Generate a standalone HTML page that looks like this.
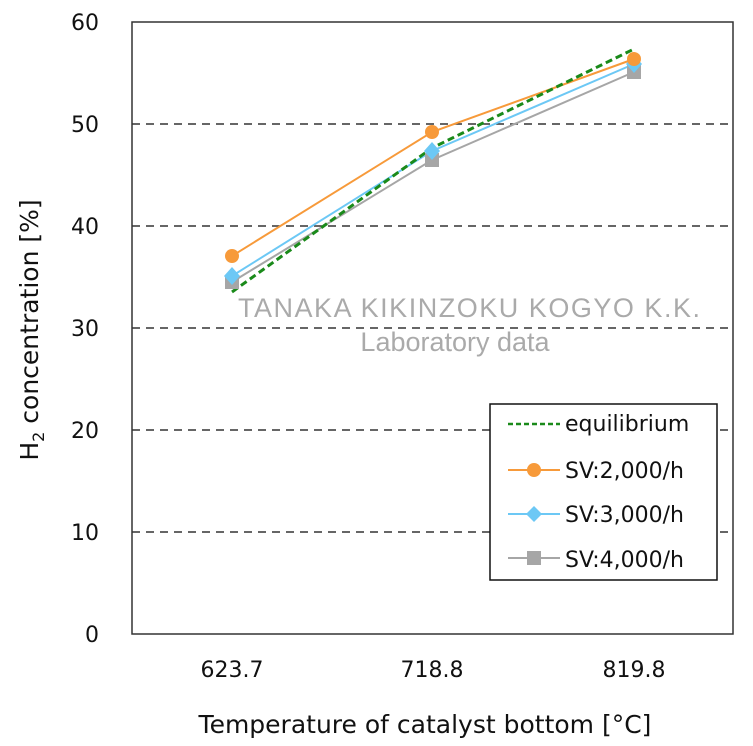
<!DOCTYPE html><html><head><style>body{margin:0;background:#fff}svg{display:block}text{font-family:"DejaVu Sans","Liberation Sans",sans-serif}</style></head><body>
<svg width="753" height="746" xmlns="http://www.w3.org/2000/svg">
<rect x="0" y="0" width="753" height="746" fill="#fff"/>
<rect x="132" y="22" width="601" height="612" fill="none" stroke="#333" stroke-width="1.5"/>
<g stroke="#333" stroke-width="1.5" stroke-dasharray="8,6">
<line x1="132" y1="124" x2="733" y2="124"/><line x1="132" y1="226" x2="733" y2="226"/><line x1="132" y1="328" x2="733" y2="328"/><line x1="132" y1="430" x2="733" y2="430"/><line x1="132" y1="532" x2="733" y2="532"/></g>
<g font-size="22" fill="#111" text-anchor="end">
<text x="99" y="30">60</text><text x="99" y="132">50</text><text x="99" y="234">40</text><text x="99" y="336">30</text><text x="99" y="438">20</text><text x="99" y="540">10</text><text x="99" y="642">0</text></g>
<g font-size="22" fill="#111" text-anchor="middle">
<text x="232" y="677">623.7</text><text x="432" y="677">718.8</text><text x="634" y="677">819.8</text>
<text x="425" y="733" font-size="25">Temperature of catalyst bottom [°C]</text></g>
<text transform="translate(38,330) rotate(-90)" font-size="25" text-anchor="middle" fill="#111">H<tspan font-size="16" dy="6">2</tspan><tspan dy="-6"> concentration [%]</tspan></text>
<g fill="#aaa" font-size="27" text-anchor="middle"><text x="469" y="317" textLength="462" style="font-family:'Liberation Sans',sans-serif">TANAKA KIKINZOKU KOGYO K.K.</text><text x="455" y="351" style="font-family:'Liberation Sans',sans-serif">Laboratory data</text></g>
<polyline points="232,282 432,160 634,72" fill="none" stroke="#a6a6a6" stroke-width="2"/>
<polyline points="232,276 432,151 634,64" fill="none" stroke="#6cc8f5" stroke-width="2"/>
<polyline points="232,256 432,132 634,59" fill="none" stroke="#f79a3a" stroke-width="2"/>
<polyline points="232,292 432,148 632,50" fill="none" stroke="#1a8a1a" stroke-width="3" stroke-dasharray="7,4"/>
<g fill="#a6a6a6"><rect x="225" y="275" width="14" height="14"/><rect x="425" y="153" width="14" height="14"/><rect x="627" y="65" width="14" height="14"/></g>
<g fill="#6cc8f5"><path d="M232 267l8 9-8 9-8-9z"/><path d="M432 142l8 9-8 9-8-9z"/><path d="M634 55l8 9-8 9-8-9z"/></g>
<g fill="#f79a3a"><circle cx="232" cy="256" r="7"/><circle cx="432" cy="132" r="7"/><circle cx="634" cy="59" r="7"/></g>
<rect x="490" y="404" width="227" height="176" fill="#fff" stroke="#111" stroke-width="1.5"/>
<g font-size="22" fill="#111"><text x="565" y="431">equilibrium</text><text x="565" y="478">SV:2,000/h</text><text x="565" y="522">SV:3,000/h</text><text x="565" y="567">SV:4,000/h</text></g>
<line x1="508" y1="424" x2="560" y2="424" stroke="#1a8a1a" stroke-width="2.5" stroke-dasharray="5,3"/>
<line x1="508" y1="470" x2="560" y2="470" stroke="#f79a3a" stroke-width="2"/><circle cx="534" cy="470" r="7" fill="#f79a3a"/>
<line x1="508" y1="514" x2="560" y2="514" stroke="#6cc8f5" stroke-width="2"/><path d="M534 506l8 8-8 8-8-8z" fill="#6cc8f5"/>
<line x1="508" y1="558" x2="560" y2="558" stroke="#a6a6a6" stroke-width="2"/><rect x="527" y="551" width="14" height="14" fill="#a6a6a6"/>
</svg></body></html>
